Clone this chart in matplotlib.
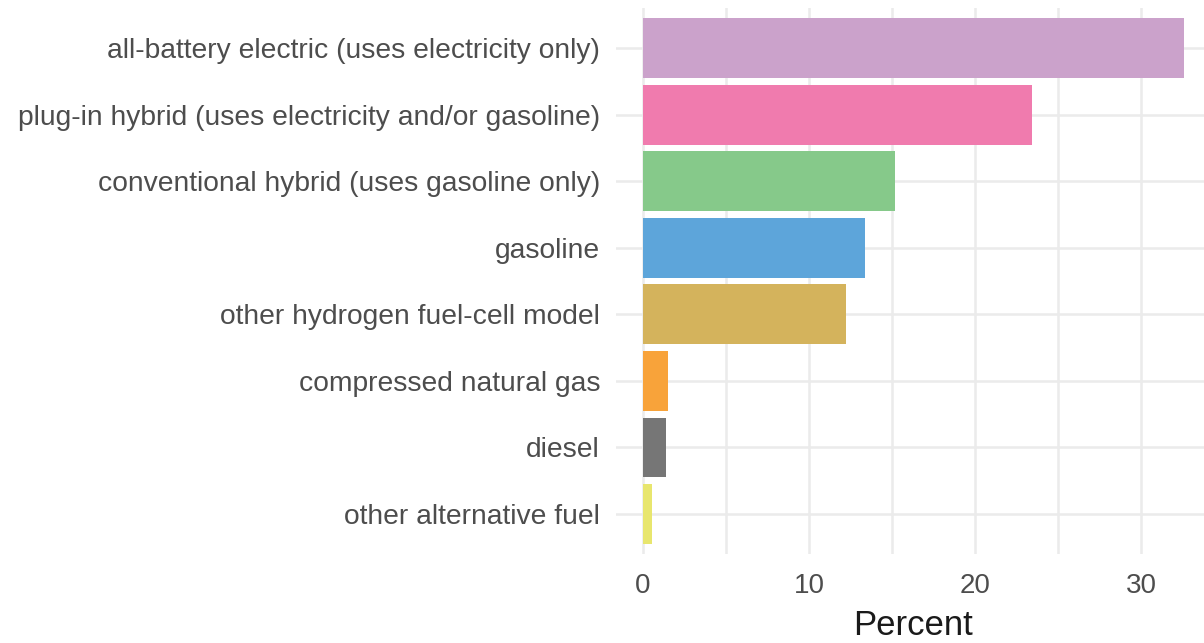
import matplotlib
matplotlib.use("Agg")
import matplotlib.pyplot as plt
import numpy as np

categories = [
    "all-battery electric (uses electricity only)",
    "plug-in hybrid (uses electricity and/or gasoline)",
    "conventional hybrid (uses gasoline only)",
    "gasoline",
    "other hydrogen fuel-cell model",
    "compressed natural gas",
    "diesel",
    "other alternative fuel",
]
percent = [32.6, 23.4, 15.15, 13.35, 12.2, 1.5, 1.4, 0.55]
colors = ["#CBA2CB", "#F07BAE", "#86C98A", "#5DA5DA", "#D4B35C",
          "#F8A33A", "#767676", "#E8E66E"]
x_ticks = [0, 10, 20, 30]
x_label = "Percent"

plt.rcParams['font.family'] = ['Liberation Sans', 'DejaVu Sans']

fig = plt.figure(figsize=(12.04, 6.43), dpi=100)
W, H = 1204, 643
left, right, top, bottom = 616, 1211, 8, 554
ax = fig.add_axes([left / W, 1 - bottom / H, (right - left) / W, (bottom - top) / H])

n = len(categories)
y = np.arange(n)[::-1]
ax.barh(y, percent, height=0.9, color=colors, zorder=2)

ax.set_ylim(-0.6, n - 1 + 0.6)
ax.set_xlim(-1.63, 34.2)
ax.set_yticks(y)
ax.set_yticklabels(categories, fontsize=20.3, color="#4D4D4D")
ax.set_xticks(x_ticks)
ax.set_xticklabels([str(t) for t in x_ticks], fontsize=20, color="#4D4D4D")
ax.set_xticks([5, 15, 25], minor=True)
ax.set_xlabel(x_label, fontsize=25, color="#1A1A1A", labelpad=7)

for s in ax.spines.values():
    s.set_visible(False)
ax.tick_params(axis='both', which='both', length=0)
ax.tick_params(axis='y', pad=11.5)
ax.tick_params(axis='x', pad=14)
ax.grid(True, which='major', color="#EBEBEB", linewidth=1.8, zorder=0)
ax.grid(True, which='minor', axis='x', color="#EBEBEB", linewidth=1.8, zorder=0)
ax.set_axisbelow(True)

fig.savefig("out.png", dpi=100)
